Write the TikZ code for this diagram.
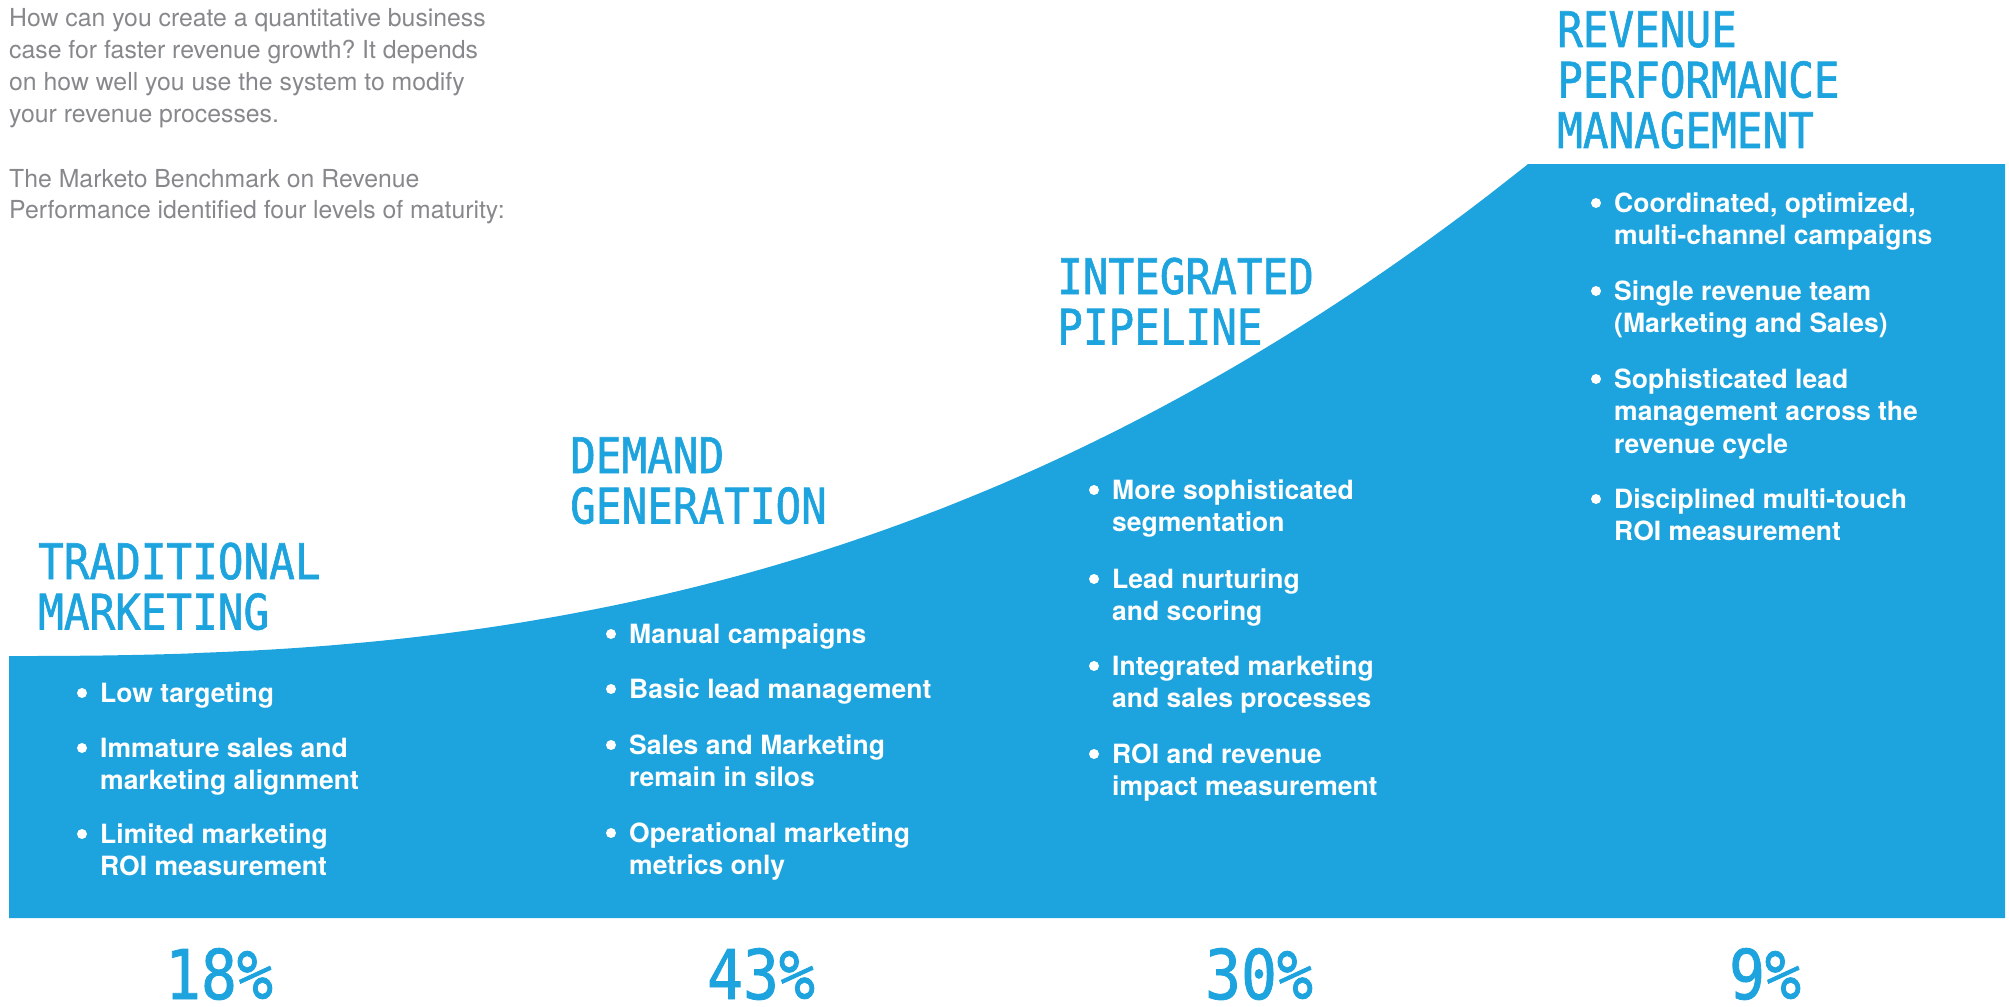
\documentclass[tikz,border=0pt]{standalone}
\usepackage{fontspec}
\setmainfont{TeX Gyre Heros}
\newfontfamily\headfont[FakeStretch=0.87,FakeBold=1.2]{DejaVu Sans Mono}
\definecolor{brand}{RGB}{29,163,221}
\definecolor{introgray}{RGB}{134,136,139}
\frenchspacing
\newcommand{\bitem}[4]{%
  \node[bdot] (#1dot) at ({#2-18},{#3-9}) {};
  \node[btext] (#1) at (#2,#3) {\parbox[t]{600pt}{#4}};}
\begin{document}
\begin{tikzpicture}[x=1pt,y=-1pt,
  bdot/.style={circle,fill=white,inner sep=0pt,minimum size=10pt},
  btext/.style={anchor=base west,inner sep=0pt,text=white,font=\fontsize{26.5}{32.5}\selectfont\bfseries},
  head/.style={anchor=base west,inner sep=0pt,text=brand,font=\headfont\fontsize{49}{50.5}\selectfont},
  pct/.style={anchor=base,inner sep=0pt,text=brand,font=\headfont\fontsize{68.6}{70}\selectfont},
  intro/.style={anchor=base west,inner sep=0pt,text=introgray,font=\fontsize{24.8}{31.7}\selectfont}]
\useasboundingbox (0,0) rectangle (2009,1006);
% blue area with rising curve
\fill[brand] (9,918) -- (9,656)
  -- plot[domain=0.002:1,samples=120,variable=\t] ({9+1519*\t},{656-492*(\t)^2.47})
  -- (1528,164) -- (2005,164) -- (2005,918) -- cycle;
% intro text
\node[intro] (intro1) at (9,27) {\parbox[t]{700pt}{How can you create a quantitative business\\case for faster revenue growth? It depends\\on how well you use the system to modify\\your revenue processes.}};
\node[intro] (intro2) at (9,187) {\parbox[t]{700pt}{The Marketo Benchmark on Revenue\\Performance identified four levels of maturity:}};
% headings
\node[head] (h1) at (38,579) {\parbox[t]{500pt}{TRADITIONAL\\MARKETING}};
\node[head] (h2) at (570,473) {\parbox[t]{500pt}{DEMAND\\GENERATION}};
\node[head] (h3) at (1057,294) {\parbox[t]{500pt}{INTEGRATED\\PIPELINE}};
\node[head] (h4) at (1557,47) {\parbox[t]{500pt}{REVENUE\\PERFORMANCE\\MANAGEMENT}};
% column 1
\bitem{a1}{100}{702}{Low targeting}
\bitem{a2}{100}{757}{Immature sales and\\marketing alignment}
\bitem{a3}{100}{843}{Limited marketing\\ROI measurement}
% column 2
\bitem{b1}{629}{643}{Manual campaigns}
\bitem{b2}{629}{698}{Basic lead management}
\bitem{b3}{629}{754}{Sales and Marketing\\remain in silos}
\bitem{b4}{629}{842}{Operational marketing\\metrics only}
% column 3
\bitem{c1}{1112}{499}{More sophisticated\\segmentation}
\bitem{c2}{1112}{588}{Lead nurturing\\and scoring}
\bitem{c3}{1112}{675}{Integrated marketing\\and sales processes}
\bitem{c4}{1112}{763}{ROI and revenue\\impact measurement}
% column 4
\bitem{d1}{1614}{212}{Coordinated, optimized,\\multi-channel campaigns}
\bitem{d2}{1614}{300}{Single revenue team\\(Marketing and Sales)}
\bitem{d3}{1614}{388}{Sophisticated lead\\management across the\\revenue cycle}
\bitem{d4}{1614}{508}{Disciplined multi-touch\\ROI measurement}
% percentages
\node[pct] (p1) at (219,999) {18\%};
\node[pct] (p2) at (761,999) {43\%};
\node[pct] (p3) at (1259,999) {30\%};
\node[pct] (p4) at (1765,999) {9\%};
\end{tikzpicture}
\end{document}
